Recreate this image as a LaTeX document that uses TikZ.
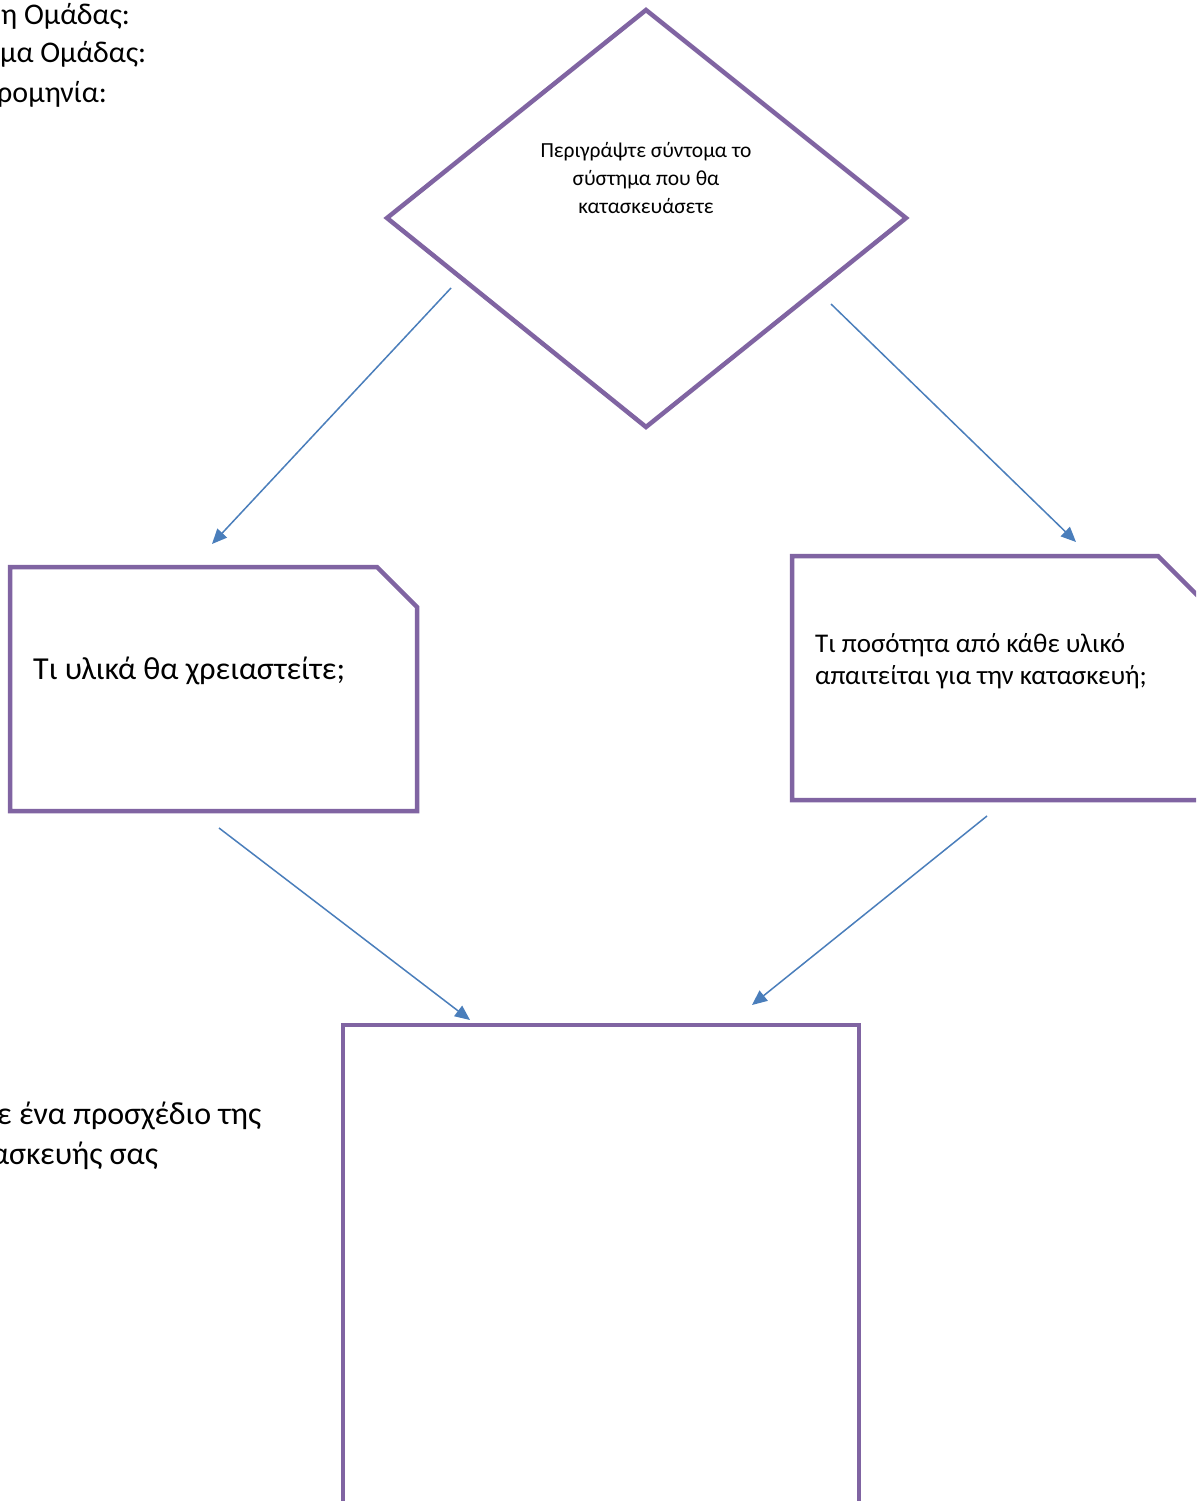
\documentclass[tikz,border=0pt]{standalone}
\usepackage{fontspec}
\setmainfont{Carlito}
\usetikzlibrary{arrows.meta}
\definecolor{boxpurple}{HTML}{8064A2}
\definecolor{arrowblue}{HTML}{4A7EBB}
\tikzset{
  shapeline/.style={draw=boxpurple, line width=4.5pt, line join=miter},
  conn/.style={draw=arrowblue, line width=1.5pt, -{Triangle[length=15pt,width=13pt]}},
  hdrtext/.style={font=\fontsize{30}{39}\selectfont, inner sep=0pt, anchor=west},
  bigtext/.style={font=\fontsize{32}{40}\selectfont, inner sep=0pt, anchor=west, align=left},
  midtext/.style={font=\fontsize{27}{32}\selectfont, inner sep=0pt, anchor=west, align=left},
  smalltext/.style={font=\fontsize{21.5}{28}\selectfont, inner sep=0pt, align=center},
}
\begin{document}
\begin{tikzpicture}[x=1pt, y=-1pt]
\useasboundingbox (0,0) rectangle (1196,1501);
\clip (0,0) rectangle (1196,1501);
\fill[white] (0,0) rectangle (1196,1501);

% top-left header text (clipped at the left edge)
\node[hdrtext] (hdr1) at (1,16) {η Ομάδας:};
\node[hdrtext] (hdr2) at (0,54) {μα Ομάδας:};
\node[hdrtext] (hdr3) at (-3,94) {ρομηνία:};

% diamond
\draw[shapeline] (646,10) -- (906,218) -- (646,427) -- (387,218) -- cycle;
\node[smalltext] (dtext) at (646,178) {Περιγράψτε σύντομα το\\σύστημα που θα\\κατασκευάσετε};

% left box
\draw[shapeline] (10,567) -- (377,567) -- (417,607) -- (417,811) -- (10,811) -- cycle;
\node[bigtext] (ltext) at (33,671) {Τι υλικά θα χρειαστείτε;};

% right box
\draw[shapeline] (792,556) -- (1158,556) -- (1202,600) -- (1202,800) -- (792,800) -- cycle;
\node[midtext] (rtext) at (815,661) {Τι ποσότητα από κάθε υλικό\\απαιτείται για την κατασκευή;};

% bottom box
\draw[shapeline] (343,1540) -- (343,1025) -- (859,1025) -- (859,1540);

% bottom-left text (clipped at the left edge)
\node[bigtext] (btext1) at (-3,1116) {ε ένα προσχέδιο της};
\node[bigtext] (btext2) at (-9,1156) {ασκευής σας};

% connector end points
\coordinate (a1s) at (451,288);
\coordinate (a1e) at (212,544);
\coordinate (a2s) at (831,304);
\coordinate (a2e) at (1076,542);
\coordinate (a3s) at (219,828);
\coordinate (a3e) at (470,1020);
\coordinate (a4s) at (987,816);
\coordinate (a4e) at (752,1005);

\draw[conn] (a1s) -- (a1e);
\draw[conn] (a2s) -- (a2e);
\draw[conn] (a3s) -- (a3e);
\draw[conn] (a4s) -- (a4e);
\end{tikzpicture}
\end{document}
